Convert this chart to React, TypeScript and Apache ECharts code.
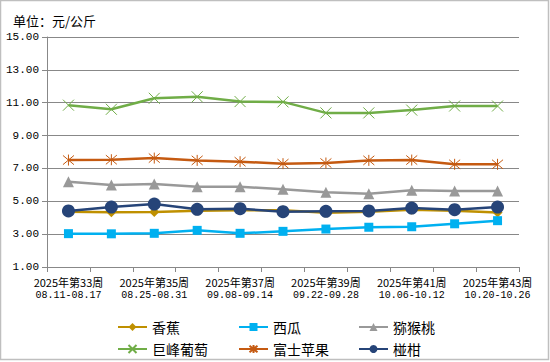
import React, { useEffect, useRef } from "react";
import * as echarts from "echarts";

const weeks = ["2025年第33周", "2025年第34周", "2025年第35周", "2025年第36周", "2025年第37周", "2025年第38周", "2025年第39周", "2025年第40周", "2025年第41周", "2025年第42周", "2025年第43周"];
const ranges = ["08.11-08.17", "08.18-08.24", "08.25-08.31", "09.01-09.07", "09.08-09.14", "09.15-09.21", "09.22-09.28", "09.29-10.05", "10.06-10.12", "10.13-10.19", "10.20-10.26"];

const banana = [4.37, 4.33, 4.35, 4.43, 4.45, 4.45, 4.3, 4.37, 4.49, 4.42, 4.32];
const watermelon = [3.03, 3.02, 3.05, 3.23, 3.05, 3.17, 3.31, 3.42, 3.45, 3.63, 3.82];
const kiwi = [6.19, 5.99, 6.05, 5.89, 5.89, 5.73, 5.55, 5.46, 5.67, 5.63, 5.63];
const grape = [10.85, 10.6, 11.27, 11.36, 11.07, 11.05, 10.38, 10.38, 10.55, 10.8, 10.8];
const apple = [7.51, 7.53, 7.63, 7.49, 7.41, 7.29, 7.33, 7.49, 7.51, 7.25, 7.25];
const citrus = [4.41, 4.65, 4.83, 4.51, 4.55, 4.37, 4.39, 4.41, 4.59, 4.49, 4.65];

const yTicks = { min: 1, max: 15, interval: 2 };

const X_PATH = "path://M0,0L10,10M10,0L0,10";
const STAR_PATH = "path://M0,0L10,10M10,0L0,10M5,-1L5,11";

export default function App() {
  const ref = useRef<HTMLDivElement>(null);
  useEffect(() => {
    if (!ref.current) return;
    const chart = echarts.init(ref.current, undefined, { renderer: "svg" });
    const mk = (name: string, data: number[], color: string, symbol: string, size: number, extra: any = {}) => ({
      name,
      type: "line",
      data,
      symbol,
      symbolSize: size,
      lineStyle: { color, width: 2.5 },
      itemStyle: { color, borderColor: color, borderWidth: extra.bw ?? 0 },
      showAllSymbol: true,
      ...(extra.z ? { z: extra.z } : {}),
    });
    const legendBase = {
      orient: "vertical",
      top: 315,
      itemWidth: 29,
      itemHeight: 10,
      itemGap: 8,
      textStyle: { fontFamily: "Noto Sans CJK SC", fontSize: 14, color: "#000", lineHeight: 14 },
    };
    chart.setOption({
      animation: false,
      backgroundColor: "#fff",
      title: {
        text: "单位：元/公斤",
        left: 8,
        top: 9,
        textStyle: { fontFamily: "Noto Sans CJK SC", fontSize: 13, fontWeight: "normal", color: "#000" },
      },
      grid: { left: 47, right: 31, top: 37, bottom: 95 },
      legend: [
        { ...legendBase, left: 112, data: ["香蕉", "巨峰葡萄"] },
        { ...legendBase, left: 233, data: ["西瓜", "富士苹果"] },
        { ...legendBase, left: 353, data: ["猕猴桃", "椪柑"] },
      ],
      xAxis: {
        type: "category",
        boundaryGap: true,
        data: weeks.map((w, i) => w + "|" + ranges[i]),
        axisLine: { lineStyle: { color: "#888", width: 1 } },
        axisTick: { show: true, interval: 0, length: 5, lineStyle: { color: "#888" } },
        axisLabel: {
          interval: 1,
          margin: 8,
          formatter: (v: string) => {
            const [a, b] = v.split("|");
            return `{a|${a}}\n{b|${b}}`;
          },
          rich: {
            a: { fontFamily: "Noto Sans CJK SC", fontSize: 11, color: "#000", lineHeight: 14 },
            b: { fontFamily: "Liberation Mono", fontSize: 10, color: "#000", lineHeight: 13 },
          },
        },
        splitLine: { show: false },
      },
      yAxis: {
        type: "value",
        min: yTicks.min,
        max: yTicks.max,
        interval: yTicks.interval,
        axisLine: { show: true, lineStyle: { color: "#888", width: 1 } },
        axisTick: { show: true, length: 5, lineStyle: { color: "#888" } },
        axisLabel: {
          margin: 8,
          formatter: (v: number) => v.toFixed(2),
          fontFamily: "Liberation Mono",
          fontSize: 11,
          color: "#000",
        },
        splitLine: { show: true, lineStyle: { color: "#888", width: 1 } },
      },
      graphic: [
        {
          type: "rect",
          shape: { x: 0.5, y: 0.5, width: 548, height: 359 },
          style: { fill: "none", stroke: "#BFBFBF", lineWidth: 1.5 },
          silent: true,
        },
      ],
      series: [
        mk("香蕉", banana, "#BF9000", "diamond", 10),
        mk("西瓜", watermelon, "#00B0F0", "rect", 9),
        mk("猕猴桃", kiwi, "#999999", "triangle", 11),
        mk("巨峰葡萄", grape, "#70AD47", X_PATH, 11, { bw: 1 }),
        mk("富士苹果", apple, "#C55A11", STAR_PATH, 11, { bw: 1 }),
        mk("椪柑", citrus, "#264478", "circle", 13),
      ],
    });
    return () => chart.dispose();
  }, []);
  return <div ref={ref} style={{ position: "absolute", left: 0, top: 0, width: 550, height: 362 }} />;
}
